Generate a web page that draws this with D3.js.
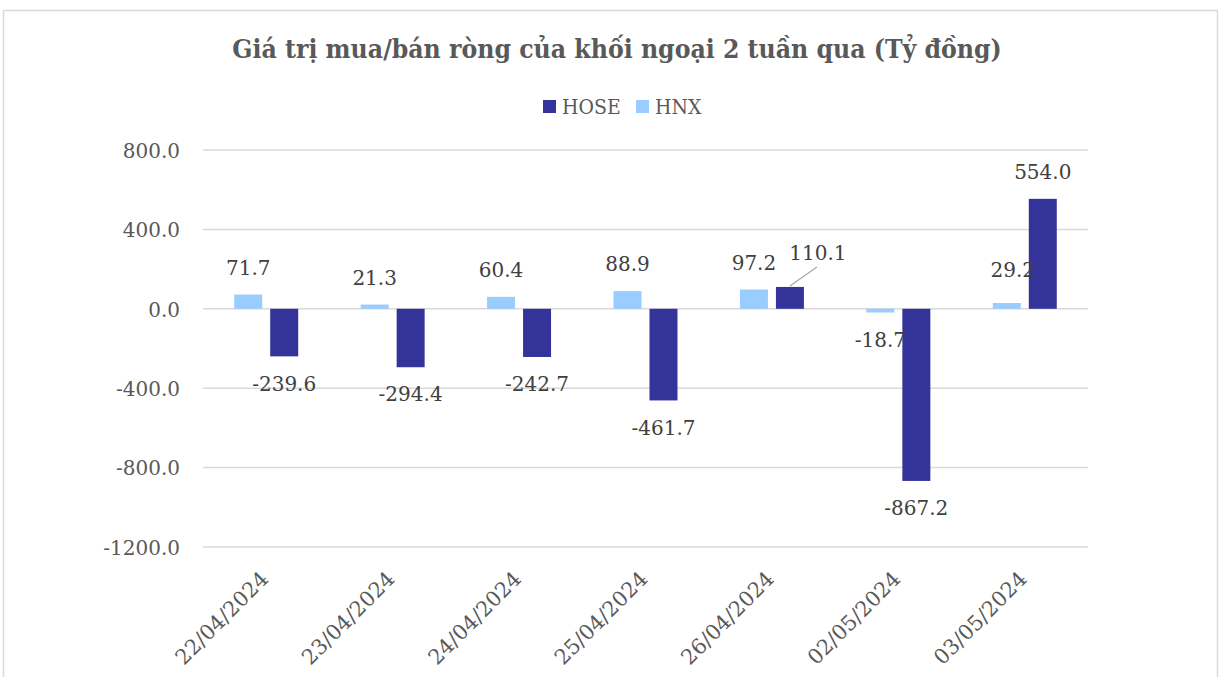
<!DOCTYPE html>
<html><head><meta charset="utf-8">
<script src="https://cdn.jsdelivr.net/npm/d3@7"></script>
<style>body{margin:0;background:#fff}svg{display:block}</style>
</head><body>
<svg id="c" width="1221" height="677"></svg>
<script>
const categories = ["22/04/2024","23/04/2024","24/04/2024","25/04/2024","26/04/2024","02/05/2024","03/05/2024"];
const hose = [-239.6,-294.4,-242.7,-461.7,110.1,-867.2,554.0];
const hnx = [71.7,21.3,60.4,88.9,97.2,-18.7,29.2];
const yTicks = [800,400,0,-400,-800,-1200];
const seriesNames = ["HOSE","HNX"];
const colors = {HOSE:"#333399", HNX:"#99CCFF"};

const svg = d3.select("#c");
const font = "'DejaVu Serif', 'Liberation Serif', serif";
const condFont = "'DejaVu Serif Condensed', 'DejaVu Serif', serif";
const fmt = v => d3.format(".1f")(v).replace("\u2212","-");

svg.append("rect").attr("x",3.5).attr("y",10.5).attr("width",1214).attr("height",720)
  .attr("fill","#fff").attr("stroke","#d9d9d9").attr("stroke-width",1.5);

const x0 = d3.scaleBand().domain(categories).range([203,1088]).padding(0);
const x1 = d3.scaleBand().domain(["HNX","HOSE"]).range([0,x0.bandwidth()]).paddingInner(0.222).paddingOuter(0.868);
const y = d3.scaleLinear().domain([-1200,800]).range([547,150]);

// gridlines
svg.append("g").selectAll("line").data(yTicks).join("line")
  .attr("x1",203).attr("x2",1088).attr("y1",d=>y(d)).attr("y2",d=>y(d))
  .attr("stroke","#d9d9d9").attr("stroke-width",1.5);

// y axis labels
const yAxis = d3.axisLeft(y).tickValues(yTicks).tickFormat(fmt).tickSize(0).tickPadding(0);
const ya = svg.append("g").attr("transform","translate(180,0)").call(yAxis);
ya.select(".domain").remove();
ya.selectAll("text").attr("font-family",font).attr("font-size",20).attr("fill","#595959").attr("dy","0.36em");

// bars
const rows = categories.map((c,i)=>({c, HOSE:hose[i], HNX:hnx[i]}));
const g = svg.append("g");
["HNX","HOSE"].forEach(s=>{
  g.selectAll("rect."+s).data(rows).join("rect").attr("class",s)
    .attr("x",d=>x0(d.c)+x1(s)).attr("width",x1.bandwidth())
    .attr("y",d=>Math.min(y(d[s]),y(0))).attr("height",d=>Math.abs(y(d[s])-y(0)))
    .attr("fill",colors[s]);
});

// data labels
const adj = {"HNX|03/05/2024":[6,-6],"HOSE|26/04/2024":[28,-34]};
["HNX","HOSE"].forEach(s=>{
  rows.forEach(d=>{
    const v = d[s];
    const bx = x0(d.c)+x1(s)+x1.bandwidth()/2;
    let ly = v>=0 ? y(v)-27 : y(v)+27;
    let lx = bx;
    const a = adj[s+"|"+d.c];
    if(a){
      if(s==="HOSE"){ lx = bx+a[0]; ly = y(v)+a[1];
        svg.append("line").attr("x1",bx).attr("y1",y(v)-1).attr("x2",bx+27).attr("y2",y(v)-20)
          .attr("stroke","#a6a6a6").attr("stroke-width",1.2);
      } else { lx += a[0]; ly += a[1]; }
    }
    svg.append("text").attr("x",lx).attr("y",ly).attr("dy","0.36em").attr("text-anchor","middle")
      .attr("font-family",font).attr("font-size",20).attr("fill","#404040").text(fmt(v));
  });
});

// x labels
const xa = svg.append("g");
categories.forEach(c=>{
  const cx = x0(c)+x0.bandwidth()/2;
  xa.append("text").attr("transform",`translate(${cx-7},${570}) rotate(-45)`)
    .attr("text-anchor","end").attr("dy","0.7em").attr("font-family",font).attr("font-size",21)
    .attr("fill","#595959").text(c);
});

// title
const title = svg.append("text").attr("x",617).attr("y",58).attr("text-anchor","middle")
  .attr("font-family",condFont).attr("font-weight","bold").attr("font-size",26).attr("fill","#595959")
  .text("Giá trị mua/bán ròng của khối ngoại 2 tuần qua (Tỷ đồng)");
const tw = title.node().getComputedTextLength();
title.attr("font-size", 26*770/tw);

// legend
const leg = svg.append("g");
const legPos = {HOSE:543, HNX:636};
seriesNames.forEach(s=>{
  leg.append("rect").attr("x",legPos[s]).attr("y",100).attr("width",13).attr("height",13).attr("fill",colors[s]);
  leg.append("text").attr("x",legPos[s]+19).attr("y",106.5).attr("dy","0.36em")
    .attr("font-family",condFont).attr("font-size",21).attr("fill","#595959").text(s);
});
</script>
</body></html>
